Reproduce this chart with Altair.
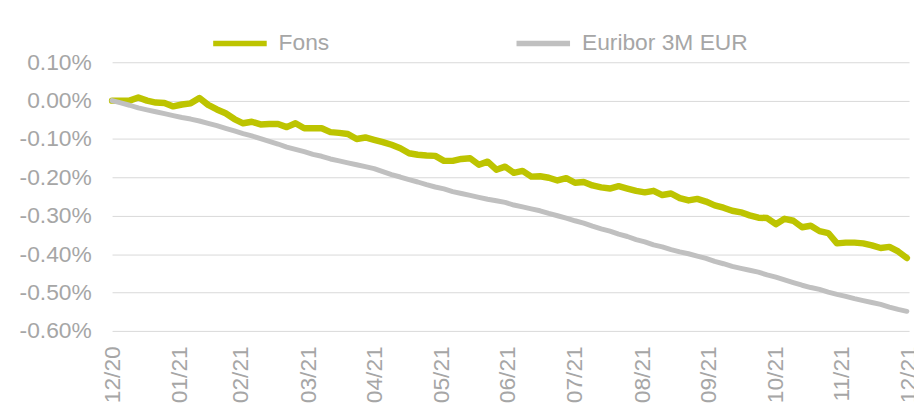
import altair as alt
import pandas as pd

# 4-day sampling dates across 2021 (x positions)
dates = pd.date_range("2020-12-31", periods=92, freq="4D").strftime("%Y-%m-%d").tolist()

series_names = ["Fons", "Euribor 3M EUR"]
series_colors = ["#BDC400", "#C0C0C0"]

# values in percent
fons = [0.000, 0.000, 0.000, 0.008, 0.000, -0.005, -0.006, -0.015, -0.010, -0.007,
        0.007, -0.011, -0.023, -0.033, -0.048, -0.059, -0.055, -0.062, -0.061, -0.061,
        -0.069, -0.059, -0.072, -0.072, -0.072, -0.082, -0.084, -0.087, -0.100, -0.096,
        -0.102, -0.108, -0.115, -0.124, -0.137, -0.141, -0.143, -0.144, -0.157, -0.157,
        -0.152, -0.150, -0.167, -0.159, -0.180, -0.172, -0.188, -0.183, -0.198, -0.197,
        -0.201, -0.208, -0.202, -0.214, -0.212, -0.221, -0.226, -0.229, -0.223, -0.229,
        -0.235, -0.239, -0.235, -0.246, -0.242, -0.254, -0.260, -0.256, -0.263, -0.273,
        -0.279, -0.287, -0.291, -0.299, -0.305, -0.306, -0.322, -0.308, -0.313, -0.330,
        -0.326, -0.340, -0.345, -0.372, -0.370, -0.370, -0.372, -0.377, -0.384, -0.381,
        -0.393, -0.410]

euribor = [0.000, -0.006, -0.012, -0.019, -0.024, -0.029, -0.034, -0.039, -0.044, -0.048,
           -0.053, -0.059, -0.065, -0.072, -0.079, -0.086, -0.092, -0.099, -0.106, -0.113,
           -0.121, -0.127, -0.133, -0.140, -0.145, -0.152, -0.157, -0.162, -0.167, -0.172,
           -0.177, -0.185, -0.193, -0.199, -0.206, -0.212, -0.219, -0.225, -0.230, -0.237,
           -0.242, -0.247, -0.252, -0.257, -0.261, -0.265, -0.272, -0.277, -0.282, -0.287,
           -0.294, -0.300, -0.306, -0.313, -0.319, -0.327, -0.334, -0.340, -0.348, -0.354,
           -0.362, -0.368, -0.376, -0.381, -0.388, -0.394, -0.399, -0.405, -0.411, -0.419,
           -0.425, -0.432, -0.437, -0.442, -0.447, -0.454, -0.460, -0.467, -0.474, -0.481,
           -0.487, -0.492, -0.499, -0.505, -0.510, -0.516, -0.521, -0.526, -0.531, -0.538,
           -0.544, -0.549]

y_ticks = [0.001, 0.0, -0.001, -0.002, -0.003, -0.004, -0.005, -0.006]
month_ends = [(2020, 12, 31), (2021, 1, 31), (2021, 2, 28), (2021, 3, 31), (2021, 4, 30),
              (2021, 5, 31), (2021, 6, 30), (2021, 7, 31), (2021, 8, 31), (2021, 9, 30),
              (2021, 10, 31), (2021, 11, 30), (2021, 12, 31)]

rows = []
for d, f, e in zip(dates, fons, euribor):
    rows.append({"date": d, "serie": series_names[0], "pct": f})
    rows.append({"date": d, "serie": series_names[1], "pct": e})
df = pd.DataFrame(rows)

FONT = "Liberation Sans"
TXT = "#A6A6A6"

tick_dates = [alt.DateTime(year=y, month=m, date=dd, utc=True) for (y, m, dd) in month_ends]

x_enc = alt.X(
    "date:T",
    scale=alt.Scale(type="utc", domain=[tick_dates[0], tick_dates[-1]]),
    axis=alt.Axis(values=tick_dates, labelExpr="utcFormat(datum.value, '%m/%y')", labelAngle=-90,
                  labelAlign="right", labelBaseline="middle", labelPadding=15,
                  domain=False, ticks=False, grid=False, title=None,
                  labelFont=FONT, labelFontSize=23, labelColor=TXT, labelOverlap=False,
                  labelBound=False, labelFlush=False),
)
y_enc = alt.Y(
    "val:Q",
    scale=alt.Scale(domain=[-0.006, 0.001], nice=False, zero=False),
    axis=alt.Axis(values=y_ticks, labelExpr="replace(format(datum.value, '.2%'), '\u2212', '-')",
                  domain=False, ticks=False, grid=True, gridColor="#D9D9D9", gridWidth=1,
                  labelPadding=21, title=None, labelFont=FONT, labelFontSize=23, labelColor=TXT),
)
color_enc = alt.Color(
    "serie:N",
    scale=alt.Scale(domain=series_names, range=series_colors),
    legend=alt.Legend(orient="none", legendX=99, legendY=-49, direction="horizontal", title=None,
                      symbolType="stroke", symbolSize=2916, symbolStrokeWidth=5.5,
                      labelFont=FONT, labelFontSize=23, labelColor=TXT, labelOffset=9,
                      labelLimit=400, columnPadding=177, padding=0),
)

base = alt.Chart(df).transform_calculate(val="datum.pct / 100")

green = base.transform_filter(alt.datum.serie == series_names[0]).mark_line(
    strokeWidth=6.5, strokeJoin="round", strokeCap="round"
).encode(x=x_enc, y=y_enc, color=color_enc)

gray = base.transform_filter(alt.datum.serie == series_names[1]).mark_line(
    strokeWidth=5, strokeJoin="round", strokeCap="round"
).encode(x=x_enc, y=y_enc, color=color_enc)

chart = alt.layer(green, gray).properties(
    width=804, height=271,
    autosize=alt.AutoSizeParams(type="none"),
    padding={"left": 105, "top": 53, "right": 5, "bottom": 72},
    background="white",
).configure_view(stroke=None, strokeWidth=0)

chart.save("out.html", embed_options={"renderer": "svg", "actions": False})
